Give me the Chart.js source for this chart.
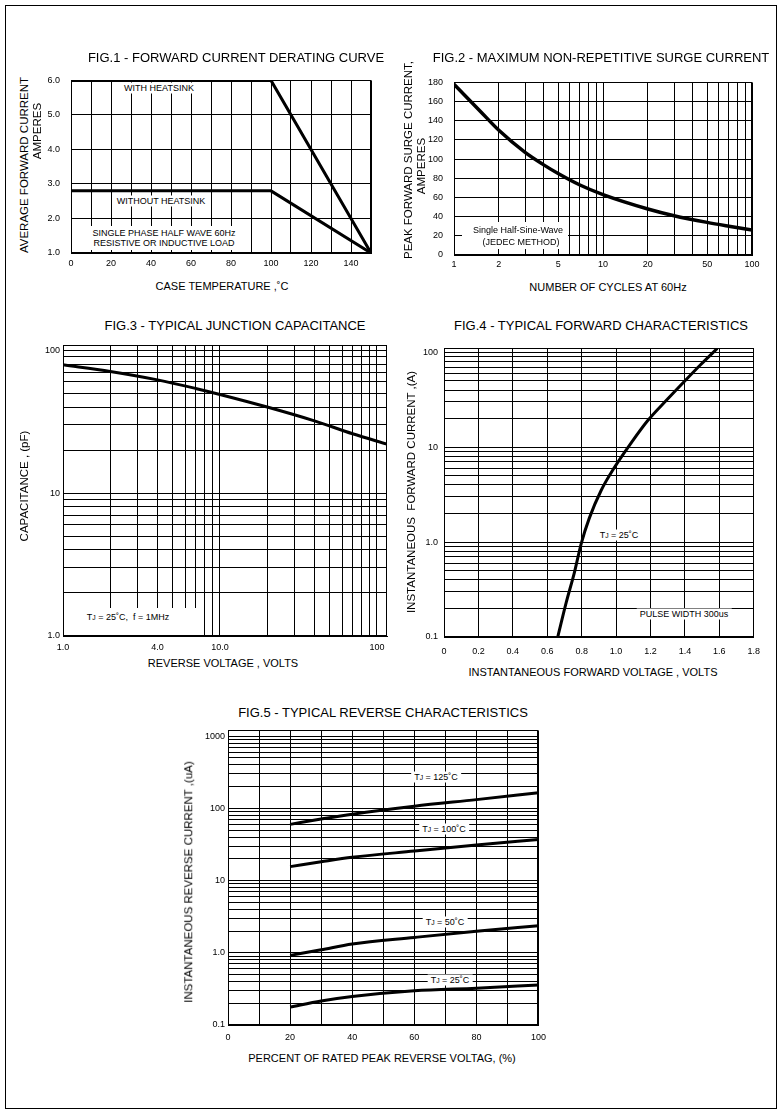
<!DOCTYPE html>
<html>
<head>
<meta charset="utf-8">
<script src="https://cdn.jsdelivr.net/npm/chart.js@4.4.1/dist/chart.umd.min.js"></script>
<style>
  body { margin: 0; background: #fff; }
  #page { position: relative; width: 780px; height: 1118px; overflow: hidden;
          font-family: "Liberation Sans", Arial, sans-serif; color: #000; }
  #frame { position: absolute; left: 5px; top: 5px; width: 772px; height: 1104px;
           border: 1.5px solid #000; box-sizing: border-box; }
  canvas { position: absolute; }
  .t { position: absolute; white-space: nowrap; line-height: 1; transform: translate(-50%, -50%); }
  .title { font-size: 13px; }
  .ax { font-size: 11px; }
  .ay { font-size: 11.5px; transform: translate(-50%, -50%) rotate(-90deg); }
  .note { font-size: 9px; background: #fff; padding: 1px 3px; }
  .plain { font-size: 9px; }
  .box { position: absolute; background: #fff; }
  .j { font-size: 75%; }
</style>
</head>
<body>
<div id="page">
  <div id="frame"></div>
  <canvas id="fig1"></canvas>
  <canvas id="fig2"></canvas>
  <canvas id="fig3"></canvas>
  <canvas id="fig4"></canvas>
  <canvas id="fig5"></canvas>

  <div class="t title" style="left:236px;top:57px">FIG.1 - FORWARD CURRENT DERATING CURVE</div>
  <div class="t title" style="left:601px;top:57px">FIG.2 - MAXIMUM NON-REPETITIVE SURGE CURRENT</div>
  <div class="t title" style="left:235px;top:325px">FIG.3 - TYPICAL JUNCTION CAPACITANCE</div>
  <div class="t title" style="left:601px;top:325px">FIG.4 - TYPICAL FORWARD CHARACTERISTICS</div>
  <div class="t title" style="left:383px;top:712px">FIG.5 - TYPICAL REVERSE CHARACTERISTICS</div>

  <div class="t ax" style="left:222px;top:286px">CASE TEMPERATURE ,˚C</div>
  <div class="t ax" style="left:608px;top:287px">NUMBER OF CYCLES AT 60Hz</div>
  <div class="t ax" style="left:223px;top:663px">REVERSE VOLTAGE , VOLTS</div>
  <div class="t ax" style="left:593px;top:672px">INSTANTANEOUS FORWARD VOLTAGE , VOLTS</div>
  <div class="t ax" style="left:382px;top:1058px">PERCENT OF RATED PEAK REVERSE VOLTAG, (%)</div>

  <div class="t ay" style="left:25px;top:165px">AVERAGE FORWARD CURRENT</div>
  <div class="t ay" style="left:38px;top:131px">AMPERES</div>
  <div class="t ay" style="left:409px;top:160px">PEAK FORWARD SURGE CURRENT,</div>
  <div class="t ay" style="left:422px;top:166px">AMPERES</div>
  <div class="t ay" style="left:25px;top:486px">CAPACITANCE , (pF)</div>
  <div class="t ay" style="left:412px;top:492px">INSTANTANEOUS&nbsp; FORWARD CURRENT ,(A)</div>
  <div class="t ay" style="left:189px;top:882px">INSTANTANEOUS REVERSE CURRENT ,(uA)</div>

  <!-- fig.1 notes -->
  <div class="t note" style="left:159px;top:88px">WITH HEATSINK</div>
  <div class="t note" style="left:161px;top:201px">WITHOUT HEATSINK</div>
  <div class="box" style="left:84px;top:226px;width:160px;height:24px"></div>
  <div class="t plain" style="left:164px;top:233px">SINGLE PHASE HALF WAVE 60Hz</div>
  <div class="t plain" style="left:164px;top:243px">RESISTIVE OR INDUCTIVE LOAD</div>

  <!-- fig.2 notes -->
  <div class="box" style="left:462px;top:222px;width:106px;height:27px"></div>
  <div class="t plain" style="left:518px;top:230px">Single Half-Sine-Wave</div>
  <div class="t plain" style="left:521px;top:242px">(JEDEC METHOD)</div>

  <!-- fig.3 notes -->
  <div class="box" style="left:64px;top:608px;width:134px;height:27px"></div>
  <div class="t plain" style="left:128px;top:617px">T<span class="j">J</span> = 25˚C,&nbsp; f = 1MHz</div>

  <!-- fig.4 notes -->
  <div class="t note" style="left:619px;top:535px">T<span class="j">J</span> = 25˚C</div>
  <div class="t note" style="left:684px;top:614px">PULSE WIDTH 300us</div>

  <!-- fig.5 notes -->
  <div class="t note" style="left:436px;top:777px">T<span class="j">J</span> = 125˚C</div>
  <div class="t note" style="left:444px;top:829px">T<span class="j">J</span> = 100˚C</div>
  <div class="t note" style="left:445px;top:922px">T<span class="j">J</span> = 50˚C</div>
  <div class="t note" style="left:450px;top:980px">T<span class="j">J</span> = 25˚C</div>
</div>

<script>
// FIG.1 derating
const fig1Temp = [0, 100, 150]
const fig1WithSink = [6.0, 6.0, 1.0]
const fig1NoSink = [2.8, 2.8, 1.0]
const fig1XGrid = [0, 10, 20, 30, 40, 50, 60, 70, 80, 90, 100, 110, 120, 130, 140, 150]
const fig1XTicks = [0, 20, 40, 60, 80, 100, 120, 140]
const fig1XText = ["0", "20", "40", "60", "80", "100", "120", "140"]
const fig1YGrid = [1, 2, 3, 4, 5, 6]
const fig1YText = ["1.0", "2.0", "3.0", "4.0", "5.0", "6.0"]

// FIG.2 surge current
const fig2Cycles = [1, 1.5, 2, 3, 4, 5, 7, 10, 20, 30, 50, 70, 100]
const fig2Amps = [178, 150, 130, 107, 94, 85, 73, 63, 48, 41, 34, 30, 26]
const fig2XTicks = [1, 2, 5, 10, 20, 50, 100]
const fig2XText = ["1", "2", "5", "10", "20", "50", "100"]
const fig2YGrid = [0, 20, 40, 60, 80, 100, 120, 140, 160, 180]

// FIG.3 capacitance
const fig3Volts = [1, 2, 4, 7, 10, 20, 40, 70, 116]
const fig3Pf = [79, 71, 62, 54, 49, 40, 32, 26, 22]
const fig3XTicks = [1, 4, 10, 100]
const fig3XText = ["1.0", "4.0", "10.0", "100"]
const fig3YTicks = [1, 10, 100]
const fig3YText = ["1.0", "10", "100"]

// FIG.4 forward characteristics
const fig4Volts = [0.661, 0.71, 0.758, 0.797, 0.845, 0.913, 0.99, 1.086, 1.183, 1.298, 1.395, 1.491, 1.588]
const fig4Amps = [0.1, 0.23, 0.48, 0.96, 1.8, 3.5, 6.1, 11, 19, 32, 49, 74, 110]
const fig4XGrid = [0, 0.2, 0.4, 0.6, 0.8, 1.0, 1.2, 1.4, 1.6, 1.8]
const fig4XText = ["0", "0.2", "0.4", "0.6", "0.8", "1.0", "1.2", "1.4", "1.6", "1.8"]
const fig4YTicks = [0.1, 1, 10, 100]
const fig4YText = ["0.1", "1.0", "10", "100"]

// FIG.5 reverse characteristics
const fig5Percent = [20, 30, 40, 60, 80, 100]
const fig5T125 = [60, 71, 83, 107, 132, 164]
const fig5T100 = [15.6, 18.2, 21, 25.6, 31, 37]
const fig5T50 = [0.92, 1.1, 1.32, 1.63, 1.99, 2.37]
const fig5T25 = [0.177, 0.215, 0.248, 0.298, 0.324, 0.357]
const fig5XGrid = [0, 10, 20, 30, 40, 50, 60, 70, 80, 90, 100]
const fig5XTicks = [0, 20, 40, 60, 80, 100]
const fig5XText = ["0", "20", "40", "60", "80", "100"]
const fig5YTicks = [0.1, 1, 10, 100, 1000]
const fig5YText = ["0.1", "1.0", "10", "100", "1000"]

const FONT = "'Liberation Sans', Arial, sans-serif"
Chart.defaults.font.family = FONT
Chart.defaults.color = "#000"

// 1..9 x 10^n between lo and hi, for log grids
function decadeGrid(lo, hi) {
    const out = []
    for (let e = Math.floor(Math.log10(lo)); Math.pow(10, e) <= hi; e++)
        for (let m = 1; m < 10; m++) {
            const v = +(m * Math.pow(10, e)).toPrecision(6)
            if (v >= lo && v <= hi) out.push(v)
        }
    return out
}

const labelFor = (vals, texts) => v => {
    const i = vals.findIndex(l => Math.abs(l - v) <= Math.abs(l) * 1e-6 + 1e-9)
    return i < 0 ? "" : texts[i]
}

function axis(type, min, max, grid, vals, texts, size, pad) {
    return {
        type, min, max,
        afterFit: s => { if (s.isHorizontal()) s.height = size; else s.width = size },
        afterBuildTicks: s => { s.ticks = grid.map(v => ({ value: v })) },
        grid: { color: "#000", lineWidth: 1, drawTicks: false },
        border: { color: "#000", width: 1 },
        ticks: {
            autoSkip: false, maxRotation: 0, padding: pad, color: "#000",
            font: { size: 9, family: FONT },
            callback: labelFor(vals, texts)
        }
    }
}

const curve = (xs, ys, width, smooth) => ({
    data: xs.map((x, i) => ({ x, y: ys[i] })),
    borderColor: "#000",
    borderWidth: width,
    pointRadius: 0,
    fill: false,
    tension: 0,
    cubicInterpolationMode: smooth ? "monotone" : "default",
    borderJoinStyle: "round"
})

const framePlugin = {
    id: "frame",
    afterDraw(chart) {
        const { ctx, chartArea: a } = chart
        ctx.save()
        ctx.strokeStyle = "#000"
        ctx.lineWidth = 1
        ctx.strokeRect(Math.round(a.left) + 0.5, Math.round(a.top) + 0.5,
            Math.round(a.right - a.left) - 1, Math.round(a.bottom - a.top) - 1)
        ctx.restore()
    }
}

function makeChart(id, box, scales, datasets) {
    const canvas = document.getElementById(id)
    canvas.style.left = box.left + "px"
    canvas.style.top = box.top + "px"
    canvas.width = box.width
    canvas.height = box.height
    return new Chart(canvas, {
        type: "line",
        data: { datasets },
        options: {
            responsive: false,
            animation: false,
            events: [],
            layout: { padding: { top: 8, right: box.right, left: 0, bottom: 0 } },
            plugins: { legend: { display: false }, tooltip: { enabled: false } },
            scales
        },
        plugins: [framePlugin]
    })
}

makeChart("fig1", { left: 37, top: 64, width: 348, height: 211, right: 14 }, {
    x: axis("linear", 0, 150, fig1XGrid, fig1XTicks, fig1XText, 22, 5),
    y: axis("linear", 1, 6, fig1YGrid, fig1YGrid, fig1YText, 34, 11)
}, [
    curve(fig1Temp, fig1WithSink, 3, false),
    curve(fig1Temp, fig1NoSink, 3, false)
])

makeChart("fig2", { left: 420, top: 66, width: 346, height: 211, right: 14 }, {
    x: axis("logarithmic", 1, 100, decadeGrid(1, 100), fig2XTicks, fig2XText, 22, 4),
    y: axis("linear", 0, 180, fig2YGrid, fig2YGrid, fig2YGrid.map(String), 34, 11)
}, [curve(fig2Cycles, fig2Amps, 3.5, true)])

makeChart("fig3", { left: 33, top: 337, width: 366, height: 319, right: 12 }, {
    x: axis("logarithmic", 1, 116, decadeGrid(1, 100), fig3XTicks, fig3XText, 20, 6),
    y: axis("logarithmic", 1, 108, decadeGrid(1, 100), fig3YTicks, fig3YText, 30, 3)
}, [curve(fig3Volts, fig3Pf, 3, true)])

makeChart("fig4", { left: 410, top: 337, width: 359, height: 322, right: 14 }, {
    x: axis("linear", 0, 1.8, fig4XGrid, fig4XGrid, fig4XText, 22, 9),
    y: axis("logarithmic", 0.1, 110, decadeGrid(0.1, 100), fig4YTicks, fig4YText, 34, 6)
}, [curve(fig4Volts, fig4Amps, 3, true)])

makeChart("fig5", { left: 188, top: 722, width: 365, height: 325, right: 14 }, {
    x: axis("linear", 0, 100, fig5XGrid, fig5XTicks, fig5XText, 22, 7),
    y: axis("logarithmic", 0.1, 1200, decadeGrid(0.1, 1000), fig5YTicks, fig5YText, 40, 3)
}, [
    curve(fig5Percent, fig5T125, 3, true),
    curve(fig5Percent, fig5T100, 3, true),
    curve(fig5Percent, fig5T50, 3, true),
    curve(fig5Percent, fig5T25, 3, true)
])
</script>
</body>
</html>
